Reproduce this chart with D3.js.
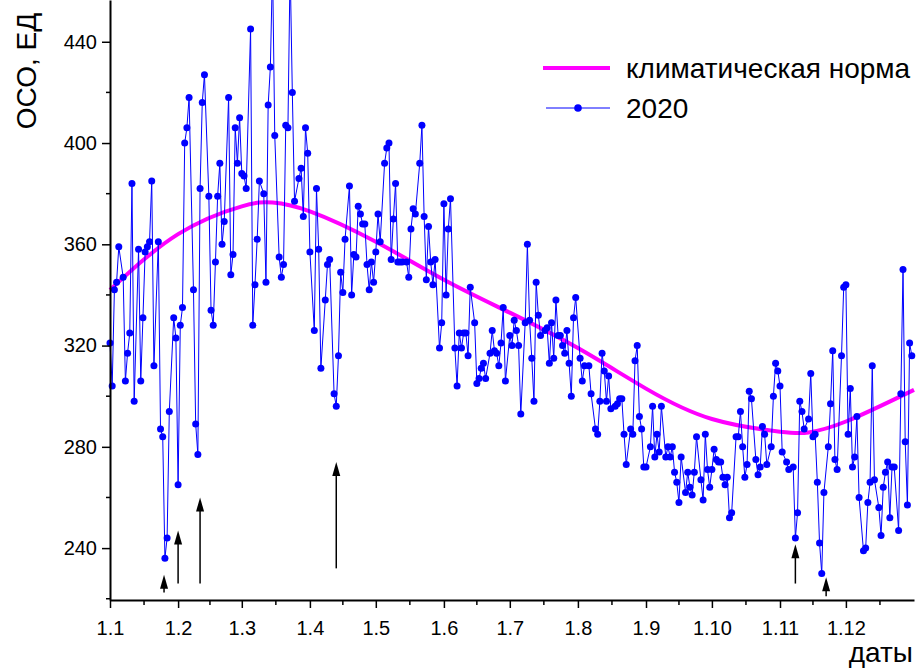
<!DOCTYPE html>
<html>
<head>
<meta charset="utf-8">
<script src="https://cdn.jsdelivr.net/npm/d3@7"></script>
<style>
  body { margin: 0; background: #fff; }
  svg { display: block; font-family: "Liberation Sans", Arial, sans-serif; }
</style>
</head>
<body>
<svg id="chart" width="922" height="670"></svg>
<script>
"use strict";

// ---------------------------------------------------------------------------
// Daily total ozone (ОСО, ЕД) for 2020 vs. the climatological norm.
// x is day of year (0 = 1 Jan 2020, leap year), y is Dobson units.
// ---------------------------------------------------------------------------

// month ticks: first day of each month, labelled "1.M"
const monthStarts = [0, 31, 60, 91, 121, 152, 182, 213, 244, 274, 305, 335];
const monthLabels = ["1.1", "1.2", "1.3", "1.4", "1.5", "1.6", "1.7", "1.8", "1.9", "1.10", "1.11", "1.12"];

const yMajor = [240, 280, 320, 360, 400, 440];
const yMinor = [220, 260, 300, 340, 380, 420];

// 2020 observations (day of year, value)
const obsDays = [
  0, 1, 2, 3, 4, 6, 7, 8, 9, 10, 11, 13, 14, 15, 16, 17, 18, 19, 20, 22, 23, 24, 25, 26, 27, 29, 30,
  31, 32, 33, 34, 35, 36, 38, 39, 40, 41, 42, 43, 45, 46, 47, 48, 49, 50, 51, 52, 54, 55, 56, 57, 58, 59,
  60, 61, 62, 64, 65, 66, 67, 68, 70, 71, 72, 73, 74, 75, 77, 78, 79, 80, 81, 82, 83, 84, 86, 87, 88, 89, 90,
  91, 93, 94, 95, 96, 98, 99, 100, 102, 103, 104, 105, 106, 107, 109, 110, 111, 112, 113, 114, 115, 116,
  117, 118, 119, 120, 121, 122, 123, 125, 126, 127, 128, 129, 130, 131, 132, 133, 135, 136, 137, 138, 139,
  141, 142, 143, 144, 145, 146, 147, 148, 150, 151, 152, 153, 154, 155, 157, 158, 159, 160, 161, 162, 163,
  164, 166, 167, 168, 169, 170, 171, 173, 174, 175, 176, 177, 178, 179, 180, 182, 183, 184, 185, 186, 187,
  189, 190, 191, 192, 193, 194, 195, 196, 198, 199, 200, 201, 202, 203, 204, 205, 206, 207, 208, 209, 210,
  211, 212, 214, 215, 216, 218, 219, 221, 222, 223, 224, 225, 226, 227, 228, 230, 231, 232, 233, 234, 235,
  237, 238, 239, 240, 241, 242, 243, 244, 246, 247, 248, 249, 250, 251, 253, 254, 255, 256, 257, 258, 259,
  260, 262, 263, 264, 265, 266, 267, 269, 270, 271, 272, 273, 274, 275, 276, 277, 278, 279, 280, 281, 282,
  283, 285, 286, 287, 288, 289, 290, 291, 292, 294, 295, 296, 297, 298, 299, 301, 302, 303, 304, 305, 306,
  308, 309, 311, 312, 313, 314, 315, 316, 318, 319, 320, 321, 322, 323, 324, 325, 327, 328, 329, 330, 331,
  333, 334, 335, 336, 337, 338, 339, 340, 341, 343, 344, 345, 346, 347, 348, 350, 351, 352, 353, 354, 355,
  356, 357, 359, 360, 361, 362, 363, 364, 365
];
const obsValues = [
  321, 304, 342, 345, 359, 347, 306, 317, 325, 384, 298, 358, 306, 331, 357, 359, 361, 385, 312, 361, 287, 284, 236, 244, 294, 331, 323,
  265, 328, 335, 400, 406, 418, 342, 289, 277, 382, 416, 427, 379, 334, 328, 353, 379, 392, 360, 369, 418, 348, 356, 406, 392, 410,
  388, 387, 382, 445, 328, 344, 362, 385, 380, 345, 415, 430, 470, 403, 355, 347, 352, 407, 406, 470, 420, 377, 386, 390, 371, 406, 396,
  357, 326, 382, 358, 311, 338, 352, 354, 301, 296, 316, 349, 341, 362, 383, 340, 356, 355, 375, 372, 368, 368,
  352, 342, 353, 345, 357, 372, 361, 392, 398, 400, 354, 370, 384, 353, 353, 353, 353, 347, 366, 374, 372,
  392, 407, 371, 346, 367, 353, 344, 354, 319, 329, 376, 340, 366, 378, 319, 304, 325, 319, 325, 325, 316,
  343, 329, 305, 307, 311, 313, 307, 317, 326, 318, 317, 312, 321, 335, 306, 324, 320, 330, 326, 320, 293,
  329, 360, 330, 315, 298, 345, 332, 324, 326, 327, 313, 329, 315, 338, 324, 324, 320, 317, 326, 313, 300,
  331, 339, 315, 306, 312, 312, 301, 287, 285, 298, 317, 310, 298, 308, 295, 296, 297, 299, 299, 285, 273,
  287, 285, 314, 320, 292, 287, 272, 272, 280, 296, 276, 285, 278, 296, 276, 280, 276, 280, 270, 266, 258,
  276, 262, 270, 264, 261, 270, 284, 267, 259, 285, 271, 264, 271, 279, 275, 274, 274, 268, 265, 268, 252,
  254, 284, 284, 294, 280, 268, 273, 302, 299, 275, 269, 272, 288, 285, 273, 280, 300, 313, 310, 304, 278,
  274, 271, 272, 244, 254, 298, 294, 287, 291, 309, 284, 285, 266, 242, 230, 262, 280, 297, 318, 275, 271,
  316, 343, 344, 285, 303, 272, 276, 292, 260, 239, 240, 258, 266, 312, 267, 256, 245, 264, 270, 274, 252,
  272, 272, 247, 301, 350, 282, 257, 321, 316
];

// climatological norm, read at a few days and smoothed
const normDays = [0, 31, 60, 74, 91, 121, 152, 182, 213, 244, 274, 305, 318, 335, 366];
const normValues = [342, 364, 375, 376.5, 373, 361, 346, 333, 319, 303, 291, 286, 285.7, 290, 302.5];

// arrows under the curve: day, tip value, tail value
const arrowDays = [24.6, 31, 41, 103, 312, 326];
const arrowTips = [229.5, 247, 260, 274, 241.5, 228.5];
const arrowTails = [222.5, 226, 226, 232, 226, 221];

const legendLabels = ["климатическая норма", "2020"];

const BLUE = "#0000ff";
const MAGENTA = "#ff00ff";

const svg = d3.select("#chart");
const x = d3.scaleLinear().domain([0, 366]).range([110, 914]);
const y = d3.scaleLinear().domain([219.5, 456.5]).range([600, 0]);

// norm curve (under the observations)
svg.append("path")
  .datum(normDays.map((d, i) => [d, normValues[i]]))
  .attr("fill", "none")
  .attr("stroke", MAGENTA)
  .attr("stroke-width", 4)
  .attr("d", d3.line().x((d) => x(d[0])).y((d) => y(d[1])).curve(d3.curveNatural));

// 2020 series
const obs = obsDays.map((d, i) => [d, obsValues[i]]);
svg.append("path")
  .datum(obs)
  .attr("fill", "none")
  .attr("stroke", BLUE)
  .attr("stroke-width", 1)
  .attr("d", d3.line().x((d) => x(d[0])).y((d) => y(d[1])));

svg.append("g")
  .selectAll("circle")
  .data(obs)
  .enter()
  .append("circle")
  .attr("cx", (d) => x(d[0]))
  .attr("cy", (d) => y(d[1]))
  .attr("r", 3.5)
  .attr("fill", BLUE);

// arrows
const arrows = svg.append("g");
arrowDays.forEach((d, i) => {
  const ax = x(d);
  const tip = y(arrowTips[i]);
  const tail = y(arrowTails[i]);
  arrows.append("line")
    .attr("x1", ax).attr("x2", ax)
    .attr("y1", tail).attr("y2", tip + 10)
    .attr("stroke", "#000").attr("stroke-width", 1.5);
  arrows.append("path")
    .attr("d", `M${ax},${tip} L${ax - 4},${tip + 14} L${ax + 4},${tip + 14} Z`)
    .attr("fill", "#000");
});

// axes
const yAxis = svg.append("g")
  .attr("transform", "translate(110,0)")
  .call(d3.axisLeft(y).tickValues(yMajor).tickSize(8).tickSizeOuter(0).tickPadding(5));
yAxis.selectAll(".tick line").attr("stroke-width", 1.5);
yAxis.select(".domain").attr("stroke-width", 2);
yAxis.selectAll("text").attr("font-size", 20).attr("font-family", null).attr("fill", "#000");
yAxis.selectAll(".minor")
  .data(yMinor)
  .enter()
  .append("line")
  .attr("class", "minor")
  .attr("x1", -4).attr("x2", 0)
  .attr("y1", (d) => y(d)).attr("y2", (d) => y(d))
  .attr("stroke", "#000").attr("stroke-width", 1.5);

const xMinor = monthStarts.map((d, i) => (i + 1 < monthStarts.length ? (d + monthStarts[i + 1]) / 2 : (d + 366) / 2));
const xAxis = svg.append("g")
  .attr("transform", "translate(0,600)")
  .call(d3.axisBottom(x).tickValues(monthStarts).tickFormat((d, i) => monthLabels[i])
    .tickSize(8).tickSizeOuter(0).tickPadding(13));
xAxis.selectAll(".tick line").attr("stroke-width", 1.5);
xAxis.select(".domain").attr("stroke-width", 2);
xAxis.selectAll("text").attr("font-size", 20).attr("font-family", null).attr("fill", "#000");
xAxis.selectAll(".minor")
  .data(xMinor)
  .enter()
  .append("line")
  .attr("class", "minor")
  .attr("x1", (d) => x(d)).attr("x2", (d) => x(d))
  .attr("y1", 0).attr("y2", 5)
  .attr("stroke", "#000").attr("stroke-width", 1.5);

// axis titles
svg.append("text")
  .attr("transform", "translate(36,71) rotate(-90)")
  .attr("text-anchor", "middle")
  .attr("font-size", 28)
  .text("ОСО, ЕД");
svg.append("text")
  .attr("x", 913).attr("y", 662)
  .attr("text-anchor", "end")
  .attr("font-size", 28)
  .text("даты");

// legend
const legend = svg.append("g");
legend.append("line")
  .attr("x1", 543).attr("x2", 610).attr("y1", 68).attr("y2", 68)
  .attr("stroke", MAGENTA).attr("stroke-width", 4);
legend.append("line")
  .attr("x1", 546).attr("x2", 610).attr("y1", 108).attr("y2", 108)
  .attr("stroke", BLUE).attr("stroke-width", 1);
legend.append("circle")
  .attr("cx", 578).attr("cy", 108).attr("r", 3.8).attr("fill", BLUE);
legend.selectAll("text.lg")
  .data(legendLabels)
  .enter()
  .append("text")
  .attr("class", "lg")
  .attr("x", 626)
  .attr("y", (d, i) => 68 + i * 40)
  .attr("dy", "0.35em")
  .attr("font-size", 28)
  .text((d) => d);
</script>
</body>
</html>
